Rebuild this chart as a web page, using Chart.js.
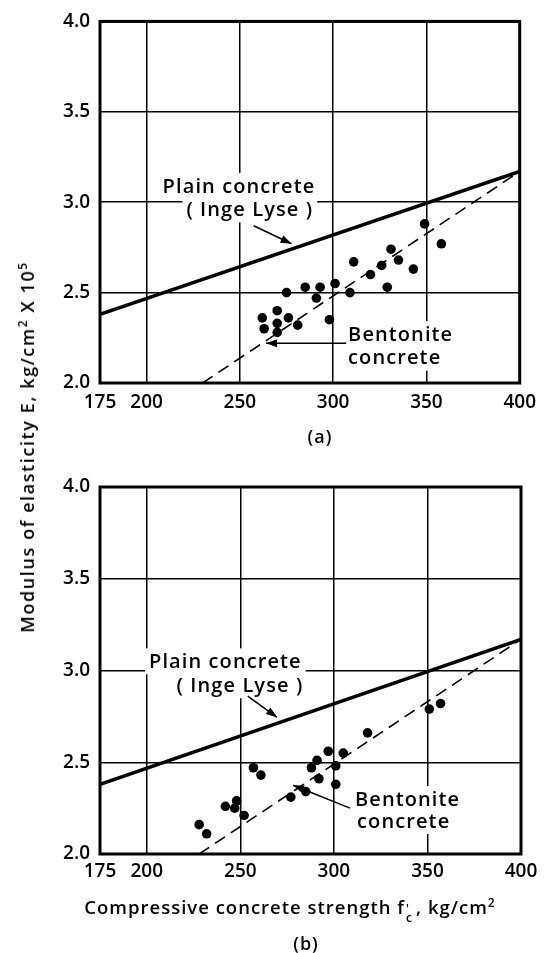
<!DOCTYPE html>
<html>
<head>
<meta charset="utf-8">
<script src="https://cdn.jsdelivr.net/npm/chart.js@4/dist/chart.umd.min.js"></script>
<style>
  body { margin: 0; background: #fff; width: 544px; height: 953px; position: relative; overflow: hidden;
         font-family: "Open Sans", sans-serif; font-weight: 600; color: #000; }
  canvas { position: absolute; left: 0; }
  #chartA { top: 0; }
  #chartB { top: 450px; }
  .txt { position: absolute; white-space: nowrap; line-height: 22px; }
  .sub { position: absolute; width: 60px; text-align: center; font-size: 18px; letter-spacing: 1px; line-height: 20px; }
  #xTitle { left: 290px; top: 907px; transform: translate(-50%, -50%); font-size: 18.5px; letter-spacing: 1px; }
  #yTitle { left: 25px; top: 447px; transform: translate(-50%, -50%) rotate(-90deg); font-size: 18px; letter-spacing: 1.6px; }
  .fc { display: inline-flex; flex-direction: column; font-size: 12px; line-height: 9px; vertical-align: 1px; margin: 0 3px 0 1px; }
  .sp { font-size: 12px; vertical-align: 7px; }
</style>
</head>
<body>
<canvas id="chartA" width="544" height="450"></canvas>
<canvas id="chartB" width="544" height="503"></canvas>
<div class="sub" style="left:290px; top:426px;">(a)</div>
<div class="sub" style="left:276px; top:933px;">(b)</div>
<div class="txt" id="xTitle">Compressive concrete strength f<span class="fc"><span>'</span><span>c</span></span>, kg/cm<span class="sp">2</span></div>
<div class="txt" id="yTitle">Modulus of elasticity E, kg/cm<span class="sp">2</span> X 10<span class="sp">5</span></div>
<script>
// Tick values
const strengthTicks = [175, 200, 250, 300, 350, 400];
const modulusTicks = [2.0, 2.5, 3.0, 3.5, 4.0];

// (a) measured points
const topStrength = [275, 285, 293, 291, 301, 309, 311, 320, 326, 331, 335, 343, 329, 298,
                     262, 270, 263, 270, 270, 276, 281, 349, 358];
const topModulus = [2.50, 2.53, 2.53, 2.47, 2.55, 2.50, 2.67, 2.60, 2.65, 2.74, 2.68, 2.63, 2.53, 2.35,
                    2.36, 2.40, 2.30, 2.33, 2.28, 2.36, 2.32, 2.88, 2.77];

// (b) measured points
const bottomStrength = [351, 357, 318, 297, 305, 291, 288, 301, 292, 301,
                        257, 261, 277, 285, 248, 242, 247, 252, 228, 232];
const bottomModulus = [2.79, 2.82, 2.66, 2.56, 2.55, 2.51, 2.47, 2.48, 2.41, 2.38,
                       2.47, 2.43, 2.31, 2.34, 2.29, 2.26, 2.25, 2.21, 2.16, 2.11];

// Plain concrete (Inge Lyse) line, end points
const plainX = [175, 400];
const plainY = [2.38, 3.17];
// Bentonite concrete lines, end points
const bentTopX = [230, 400];
const bentTopY = [2.0, 3.17];
const bentBottomX = [228, 400];
const bentBottomY = [2.0, 3.17];

const pts = (xs, ys) => xs.map((v, i) => ({ x: v, y: ys[i] }));

// labels drawn inside the plot, placed in data units
const notesA = {
  texts: [
    { text: 'Plain concrete', x: 249.5, y: 3.09, align: 'center' },
    { text: '( Inge Lyse )', x: 255.3, y: 2.96, align: 'center' },
    { text: 'Bentonite', x: 308, y: 2.27, align: 'left' },
    { text: 'concrete', x: 308, y: 2.14, align: 'left' }
  ],
  arrows: [
    { x1: 257.4, y1: 2.87, x2: 277.7, y2: 2.77 },
    { x1: 307, y1: 2.22, x2: 264, y2: 2.22 }
  ]
};
const notesB = {
  texts: [
    { text: 'Plain concrete', x: 242, y: 3.05, align: 'center' },
    { text: '( Inge Lyse )', x: 249.8, y: 2.92, align: 'center' },
    { text: 'Bentonite', x: 311.3, y: 2.30, align: 'left' },
    { text: 'concrete', x: 312.4, y: 2.18, align: 'left' }
  ],
  arrows: [
    { x1: 254, y1: 2.86, x2: 269.6, y2: 2.745 },
    { x1: 308.6, y1: 2.25, x2: 278.2, y2: 2.375 }
  ]
};

const annotate = {
  id: 'annotate',
  beforeDatasetsDraw(chart, args, opts) {
    const { ctx, scales: { x, y } } = chart;
    ctx.save();
    ctx.font = '600 20px "Open Sans"';
    ctx.letterSpacing = '1.1px';
    ctx.textBaseline = 'middle';
    ctx.textAlign = 'left';
    opts.texts.forEach(t => {
      const px = x.getPixelForValue(t.x), py = y.getPixelForValue(t.y);
      const w = ctx.measureText(t.text).width;
      const left = t.align === 'center' ? px - w / 2 : px;
      ctx.fillStyle = '#fff';
      ctx.fillRect(left - 4, py - 13, w + 8, 26);
      ctx.fillStyle = '#000';
      ctx.fillText(t.text, left, py + 1);
    });
    ctx.strokeStyle = '#000';
    ctx.fillStyle = '#000';
    ctx.lineWidth = 1.5;
    opts.arrows.forEach(a => {
      const x1 = x.getPixelForValue(a.x1), y1 = y.getPixelForValue(a.y1);
      const x2 = x.getPixelForValue(a.x2), y2 = y.getPixelForValue(a.y2);
      const ang = Math.atan2(y2 - y1, x2 - x1);
      ctx.beginPath();
      ctx.moveTo(x1, y1);
      ctx.lineTo(x2, y2);
      ctx.stroke();
      ctx.beginPath();
      ctx.moveTo(x2, y2);
      ctx.lineTo(x2 - 11 * Math.cos(ang) + 4 * Math.sin(ang), y2 - 11 * Math.sin(ang) - 4 * Math.cos(ang));
      ctx.lineTo(x2 - 11 * Math.cos(ang) - 4 * Math.sin(ang), y2 - 11 * Math.sin(ang) + 4 * Math.cos(ang));
      ctx.closePath();
      ctx.fill();
    });
    ctx.restore();
  },
  afterDraw(chart) {
    // heavy frame round the plot
    const { ctx, chartArea: a } = chart;
    ctx.save();
    ctx.strokeStyle = '#000';
    ctx.lineWidth = 3;
    ctx.strokeRect(a.left, a.top, a.right - a.left, a.bottom - a.top);
    ctx.restore();
  }
};

function makeChart(id, sx, sy, bx, by, notes, pad, axisH, tickPad) {
  return new Chart(document.getElementById(id), {
    type: 'scatter',
    data: {
      datasets: [
        {
          data: pts(sx, sy),
          backgroundColor: '#000',
          borderColor: '#000',
          pointRadius: 4.8,
          pointBorderWidth: 0
        },
        {
          type: 'line',
          data: pts(plainX, plainY),
          borderColor: '#000',
          borderWidth: 3.5,
          pointRadius: 0,
          fill: false
        },
        {
          type: 'line',
          data: pts(bx, by),
          borderColor: '#000',
          borderWidth: 1.6,
          borderDash: [12, 7],
          pointRadius: 0,
          fill: false
        }
      ]
    },
    options: {
      responsive: false,
      animation: false,
      layout: { padding: pad },
      plugins: {
        legend: { display: false },
        tooltip: { enabled: false },
        annotate: notes
      },
      scales: {
        x: {
          type: 'linear',
          min: 175,
          max: 400,
          afterBuildTicks: s => { s.ticks = strengthTicks.map(v => ({ value: v })); },
          afterFit: s => { s.height = axisH; },
          grid: { color: '#000', lineWidth: 1.5, drawTicks: false },
          border: { display: false },
          ticks: { color: '#000', padding: tickPad, maxRotation: 0,
                   font: { family: 'Open Sans', size: 19, weight: '600' } }
        },
        y: {
          min: 2,
          max: 4,
          afterBuildTicks: s => { s.ticks = modulusTicks.map(v => ({ value: v })); },
          afterFit: s => { s.width = 100; },
          grid: { color: '#000', lineWidth: 1.5, drawTicks: false },
          border: { display: false },
          ticks: {
            color: '#000',
            padding: 10,
            font: { family: 'Open Sans', size: 19, weight: '600' },
            callback: v => v.toFixed(1)
          }
        }
      }
    },
    plugins: [annotate]
  });
}

makeChart('chartA', topStrength, topModulus, bentTopX, bentTopY, notesA,
          { top: 17, right: 21, left: 0, bottom: 0 }, 67, 8);
makeChart('chartB', bottomStrength, bottomModulus, bentBottomX, bentBottomY, notesB,
          { top: 37, right: 23, left: 0, bottom: 0 }, 99, 6);
</script>
</body>
</html>
